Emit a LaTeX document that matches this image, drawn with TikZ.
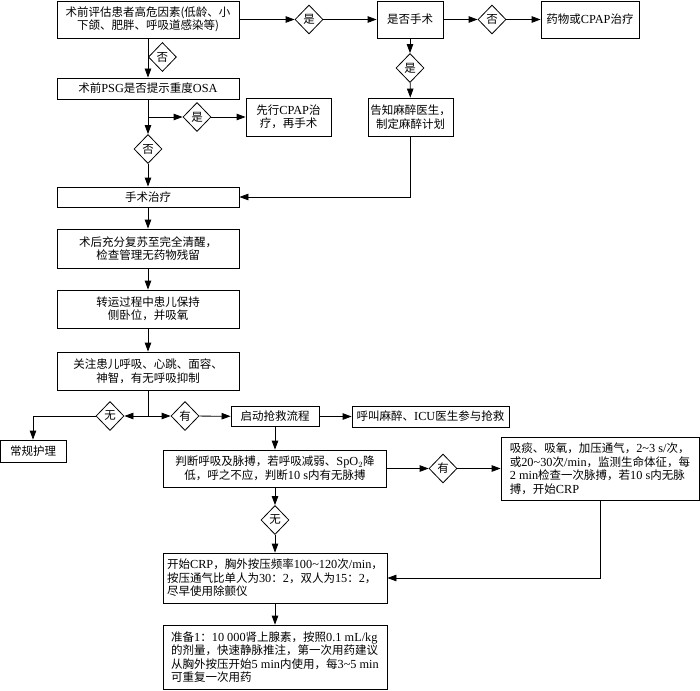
\documentclass[tikz,border=0pt]{standalone}
\usepackage{fontspec}
\setmainfont{Noto Sans CJK SC}
\newfontfamily\latn[Scale=1.07]{Liberation Serif}
\usetikzlibrary{arrows.meta,shapes.geometric}
\newcommand{\fs}{\fontsize{11.5pt}{13.5pt}\selectfont}
\newcommand{\la}[1]{{\latn #1}}

\begin{document}
\begin{tikzpicture}[x=1pt, y=-1pt, >={Triangle[length=9pt,width=6.5pt]}, font=\fs,
  box/.style={draw, line width=0.8pt, inner sep=2pt, align=center},
  lbox/.style={box, align=left},
  dec/.style={draw, diamond, line width=0.8pt, inner sep=0pt, minimum width=28pt, minimum height=29pt},
  link/.style={->, line width=0.8pt}]

\useasboundingbox (0,0) rectangle (700,690);

% --- Preoperative assessment ---
\node[box, minimum width=182pt, minimum height=37pt] (pre) at (148,19.5) {术前评估患者高危因素(低龄、小\\下颌、肥胖、呼吸道感染等)};
\node[dec] (d1) at (309,19.5) {是};
\node[box, minimum width=66pt, minimum height=37pt] (surg) at (410,19.5) {是否手术};
\node[dec] (d2) at (492,19.5) {否};
\node[box, minimum width=98pt, minimum height=37pt] (drug) at (590,19.5) {药物或\la{CPAP}治疗};
\node[dec] (d3) at (410,68) {是};
\node[box, minimum width=85pt, minimum height=38pt] (tell) at (410.5,117) {告知麻醉医生，\\制定麻醉计划};

\node[dec, anchor=west] (d4) at (148,57) {否};
\node[box, minimum width=182pt, minimum height=21pt] (psg) at (148,88.5) {术前\la{PSG}是否提示重度\la{OSA}};
\coordinate (b1) at (148,117);
\node[dec] (d5) at (197,117) {是};
\node[box, minimum width=85pt, minimum height=38pt] (cpap) at (288.5,117) {先行\la{CPAP}治\\疗，再手术};
\node[dec] (d6) at (148,149) {否};

% --- Surgery and recovery ---
\node[box, minimum width=182pt, minimum height=20pt] (op) at (148,197) {手术治疗};
\node[box, minimum width=182pt, minimum height=39pt] (rec) at (148,248.5) {术后充分复苏至完全清醒，\\检查管理无药物残留};
\node[box, minimum width=182pt, minimum height=38pt] (trans) at (148,309) {转运过程中患儿保持\\侧卧位，并吸氧};
\node[box, minimum width=182pt, minimum height=38pt] (watch) at (148,371) {关注患儿呼吸、心跳、面容、\\神智，有无呼吸抑制};
\coordinate (b2) at (148,416);
\node[dec] (d7) at (110,416) {无};
\node[box, minimum width=66pt, minimum height=22pt] (care) at (33,451) {常规护理};
\node[dec] (d8) at (185,416) {有};

% --- Rescue ---
\node[box, minimum width=88pt, minimum height=20pt] (start) at (275,416.5) {启动抢救流程};
\node[box, minimum width=157pt, minimum height=21pt] (call) at (430.5,416.5) {呼叫麻醉、\la{ICU}医生参与抢救};
\node[box, minimum width=223pt, minimum height=37pt] (judge) at (275,468.5) {判断呼吸及脉搏，若呼吸减弱、\la{SpO}$_2$降\\低，呼之不应，判断\la{10 s}内有无脉搏};
\node[dec] (d9) at (443,468.5) {有};
\node[lbox, minimum width=198pt, minimum height=63pt] (resp) at (600,468.5) {吸痰、吸氧，加压通气，\la{2\textasciitilde3 s/}次，\\或\la{20\textasciitilde30}次\la{/min}，监测生命体征，每\\\la{2 min}检查一次脉搏，若\la{10 s}内无脉\\搏，开始\la{CRP}};
\node[dec] (d10) at (275,520) {无};
\node[lbox, minimum width=224pt, minimum height=50pt] (cpr) at (275,578) {开始\la{CRP}，胸外按压频率\la{100\textasciitilde120}次\la{/min}，\\按压通气比单人为\la{30}：\la{2}，双人为\la{15}：\la{2}，\\尽早使用除颤仪};
\node[lbox, minimum width=224pt, minimum height=64pt] (epi) at (275,657) {准备\la{1}：\la{10 000}肾上腺素，按照\la{0.1 mL/kg}\\的剂量，快速静脉推注，第一次用药建议\\从胸外按压开始\la{5 min}内使用，每\la{3\textasciitilde5 min}\\可重复一次用药};

% --- Connectors ---
\draw[link] (pre) -- (d1);
\draw[link] (d1) -- (surg);
\draw[link] (surg) -- (d2);
\draw[link] (d2) -- (drug);
\draw[link] (surg) -- (d3);
\draw[link] (d3) -- (tell);
\draw[link] (tell.south) |- (op.east);
\draw[link] (pre) -- (psg);
\draw[link] (psg) -- (d6);
\draw[link] (b1) -- (d5);
\draw[link] (d5) -- (cpap);
\draw[link] (d6) -- (op);
\draw[link] (op) -- (rec);
\draw[link] (rec) -- (trans);
\draw[link] (trans) -- (watch);
\draw[line width=0.8pt] (watch.south) -- (b2);
\draw[link] (b2) -- (d7);
\draw[link] (d7.west) -| (care.north);
\draw[link] (b2) -- (d8);
\draw[link] (d8) -- (start);
\draw[link] (start) -- (call);
\draw[link] (start) -- (judge);
\draw[link] (judge) -- (d9);
\draw[link] (d9) -- (resp);
\draw[link] (judge) -- (d10);
\draw[link] (d10) -- (cpr);
\draw[link] (resp.south) |- (cpr.east);
\draw[link] (cpr) -- (epi);

\end{tikzpicture}
\end{document}
